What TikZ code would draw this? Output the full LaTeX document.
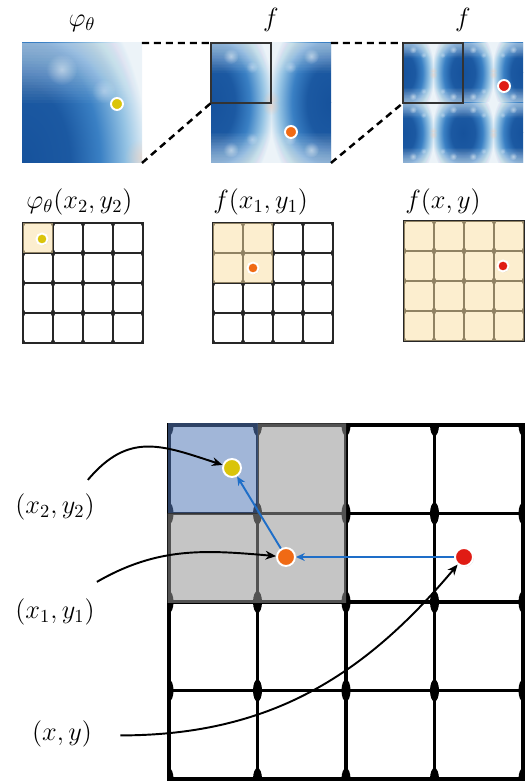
\RequirePackage{fix-cm}
\documentclass[tikz,border=0pt]{standalone}
\usetikzlibrary{arrows.meta, positioning, fadings, shadows}

\definecolor{hmDark}{RGB}{22,82,156}
\definecolor{hmMid}{RGB}{58,128,196}
\definecolor{hmLight}{RGB}{150,196,228}
\definecolor{hmWhite}{RGB}{236,243,248}
\definecolor{hmPeach}{RGB}{246,196,166}
\definecolor{dotYellow}{RGB}{218,196,10}
\definecolor{dotOrange}{RGB}{240,106,20}
\definecolor{dotRed}{RGB}{224,28,20}
\definecolor{selBeige}{RGB}{250,222,160}
\definecolor{selGray}{RGB}{150,150,150}
\definecolor{selBlue}{RGB}{84,122,184}
\definecolor{arrBlue}{RGB}{30,110,200}

\pgfdeclareradialshading{hmblob}{\pgfpoint{0bp}{0bp}}{%
  color(0bp)=(hmDark); color(8bp)=(hmDark!85!hmMid); color(13bp)=(hmMid);
  color(17.5bp)=(hmLight); color(21bp)=(hmWhite); color(25bp)=(hmWhite); color(50bp)=(hmWhite)}
\tikzfading[name=hmspot, inner color=transparent!0, outer color=transparent!100]

% one tile of the heat map, unit square, dark corner at (0,0)
\newcommand{\hmtile}{%
  \begin{scope}
    \clip (0,0) rectangle (1,1);
    \fill[hmWhite] (0,0) rectangle (1,1);
    \begin{scope}[xscale=1.25, yscale=2]
      \shade[shading=hmblob] (0,0) circle (1);
    \end{scope}
    \foreach \k in {0,...,19}
      \fill[white, opacity=.03] (0,.5+.025*\k) rectangle (1,1);
    \fill[white, opacity=.5, path fading=hmspot] (.33,.78) circle (.13);
    \fill[white, opacity=.35, path fading=hmspot] (.68,.6) circle (.1);
    \fill[hmPeach, opacity=.4, path fading=hmspot] (1,.05) circle (.15);
  \end{scope}}

% mirrored tiles: left, top, tiles per side, tile size
\newcommand{\hmimage}[4]{%
  \foreach \c in {1,...,#3}{
    \foreach \r in {1,...,#3}{
      \pgfmathsetmacro{\sx}{isodd(\c) ? 1 : -1}
      \pgfmathsetmacro{\sy}{isodd(\r) ? 1 : -1}
      \pgfmathsetmacro{\ox}{#1 + #4*(\c - 1 + (1-\sx)/2)}
      \pgfmathsetmacro{\oy}{#2 - #4*(\r - (1-\sy)/2)}
      \pgfmathsetmacro{\kx}{\sx*#4}
      \pgfmathsetmacro{\ky}{\sy*#4}
      \begin{scope}[shift={(\ox,\oy)}, xscale=\kx, yscale=\ky]
        \hmtile
      \end{scope}
    }
  }}

% small 4x4 grid: left, top
\newcommand{\smallgrid}[2]{%
  \foreach \i in {0,...,4}{
    \draw[thingrid] (#1+30*\i,#2) -- ++(0,-120);
    \draw[thingrid] (#1,#2-30*\i) -- ++(120,0);
  }
  \begin{scope}
    \clip (#1,#2) rectangle ++(120,-120);
    \foreach \i in {0,...,4}
      \foreach \j in {0,...,4}
        \fill[black!85] (#1+30*\i,#2-30*\j) ellipse [x radius=2.2, y radius=3.4];
  \end{scope}}

\begin{document}
\begin{tikzpicture}[
  x=0.02cm, y=0.02cm,
  lbl/.style={font=\fontsize{15}{18}\selectfont, inner sep=0pt, anchor=base},
  imgnode/.style={minimum size=#1, inner sep=0pt, outer sep=0pt},
  zoombox/.style={draw=black!80, line width=0.9pt, minimum size=1.2cm, inner sep=0pt, outer sep=0pt},
  zoomline/.style={line width=1.4pt, dash pattern=on 4pt off 2.8pt},
  thingrid/.style={line width=1pt, black!85, line cap=rect},
  biggrid/.style={line width=1.8pt, black, line cap=rect},
  ptdot/.style={circle, draw=white, line width=1.1pt, inner sep=0pt, minimum size=#1,
    drop shadow={opacity=.3, shadow xshift=.5pt, shadow yshift=-.5pt}},
  bluearr/.style={-{Stealth[length=5pt, width=4.5pt]}, line width=1.1pt, arrBlue},
  curvearr/.style={-{Stealth[length=6pt, width=5pt]}, line width=1.1pt, black}
]
\useasboundingbox (0,0) rectangle (525,781);

% heat maps and zoom boxes
\hmimage{22}{738}{1}{120}
\hmimage{211}{738}{2}{60}
\hmimage{403}{738}{4}{30}
\node[imgnode=2.4cm] (img1) at (82,678) {};
\node[imgnode=2.4cm] (img2) at (271,678) {};
\node[imgnode=2.4cm] (img3) at (463,678) {};
\node[zoombox] (box2) at (241,708) {};
\node[zoombox] (box3) at (433,708) {};
\draw[zoomline] (img1.north east) -- (box2.north west);
\draw[zoomline] (img1.south east) -- (box2.south west);
\draw[zoomline] (img2.north east) -- (box3.north west);
\draw[zoomline] (img2.south east) -- (box3.south west);

\node[lbl] (lPhi) at (82,754) {$\varphi_\theta$};
\node[lbl] (lF2) at (271,754) {$f$};
\node[lbl] (lF3) at (463,754) {$f$};
\node[ptdot=0.24cm, fill=dotYellow] (tY) at (117,677) {};
\node[ptdot=0.24cm, fill=dotOrange] (tO) at (291,649) {};
\node[ptdot=0.24cm, fill=dotRed] (tR) at (504,695) {};

% small grids
\smallgrid{23}{558}
\smallgrid{213}{558}
\smallgrid{404}{560}
\fill[selBeige, opacity=.5] (23,558) rectangle ++(30,-30);
\fill[selBeige, opacity=.5] (213,558) rectangle ++(60,-60);
\fill[selBeige, opacity=.5] (404,560) rectangle ++(120,-120);
\node[lbl, anchor=base west] (lG1) at (26,572) {$\varphi_\theta(x_2,y_2)$};
\node[lbl, anchor=base west] (lG2) at (213,572) {$f(x_1,y_1)$};
\node[lbl, anchor=base west] (lG3) at (405,572) {$f(x,y)$};
\node[ptdot=0.22cm, fill=dotYellow] (gY) at (42,542) {};
\node[ptdot=0.22cm, fill=dotOrange] (gO) at (253,513) {};
\node[ptdot=0.22cm, fill=dotRed] (gR) at (503,515) {};

% big grid
\begin{scope}
  \clip (169,2) rectangle (523,356);
  \foreach \i in {0,...,4}
    \foreach \j in {0,...,4}
      \fill (169+88.5*\i,2+88.5*\j) ellipse [x radius=4.5, y radius=11];
\end{scope}
\foreach \i in {0,...,4}{
  \draw[biggrid] (169+88.5*\i,2) -- ++(0,354);
  \draw[biggrid] (169,2+88.5*\i) -- ++(354,0);
}
\fill[selGray, opacity=.55] (167.5,178) rectangle (346,267.5) (257.5,267.5) rectangle (346,357.5);
\fill[selBlue, opacity=.55] (167.5,267.5) rectangle (257.5,357.5);

\node[ptdot=0.36cm, fill=dotYellow] (dY) at (232,313) {};
\node[ptdot=0.36cm, fill=dotOrange] (dO) at (286,224) {};
\node[ptdot=0.36cm, fill=dotRed] (dR) at (464,224) {};
\draw[bluearr] (dR) -- (dO);
\draw[bluearr] (dO) -- (dY);

\node[lbl] (lXY2) at (55,267) {$(x_2,y_2)$};
\node[lbl] (lXY1) at (55,162) {$(x_1,y_1)$};
\node[lbl] (lXY) at (62,40) {$(x,y)$};
\draw[curvearr] ([shift={(-7,14)}]lXY2.north east) to[out=50, in=162, looseness=1.2] (dY);
\draw[curvearr] ([shift={(2,17)}]lXY1.north east) to[out=30, in=175] (dO);
\draw[curvearr] ([shift={(28,-1)}]lXY.east) to[out=0, in=230] (dR);
\end{tikzpicture}
\end{document}
